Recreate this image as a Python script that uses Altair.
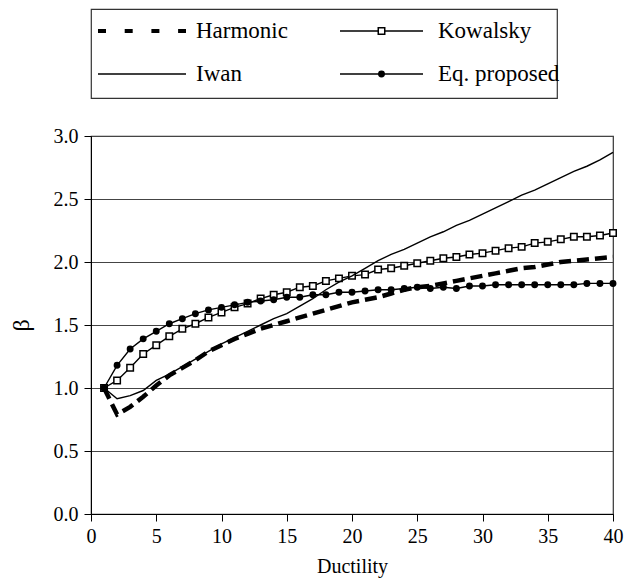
import altair as alt
import pandas as pd

ductility = list(range(1, 41))

harmonic = [1.00, 0.79, 0.85, 0.93, 1.02, 1.10, 1.16, 1.22, 1.29, 1.34,
            1.39, 1.43, 1.47, 1.50, 1.53, 1.56, 1.59, 1.62, 1.65, 1.68,
            1.70, 1.72, 1.75, 1.78, 1.80, 1.81, 1.83, 1.85, 1.87, 1.89,
            1.91, 1.93, 1.95, 1.96, 1.98, 2.00, 2.01, 2.02, 2.03, 2.04]

iwan = [1.00, 0.915, 0.94, 0.98, 1.06, 1.11, 1.17, 1.23, 1.29, 1.35,
        1.40, 1.45, 1.50, 1.55, 1.59, 1.65, 1.71, 1.78, 1.84, 1.89,
        1.95, 2.01, 2.06, 2.10, 2.15, 2.20, 2.24, 2.29, 2.33, 2.38,
        2.43, 2.48, 2.53, 2.57, 2.62, 2.67, 2.72, 2.76, 2.81, 2.87]

kowalsky = [1.00, 1.06, 1.16, 1.27, 1.34, 1.41, 1.47, 1.51, 1.56, 1.60,
            1.64, 1.67, 1.71, 1.74, 1.76, 1.80, 1.81, 1.85, 1.87, 1.89,
            1.90, 1.94, 1.95, 1.97, 1.99, 2.01, 2.03, 2.04, 2.06, 2.07,
            2.09, 2.11, 2.12, 2.15, 2.16, 2.18, 2.20, 2.20, 2.21, 2.23]

proposed = [1.00, 1.18, 1.31, 1.39, 1.45, 1.51, 1.55, 1.59, 1.62, 1.64,
            1.66, 1.68, 1.69, 1.70, 1.72, 1.72, 1.74, 1.74, 1.76, 1.76,
            1.77, 1.78, 1.78, 1.79, 1.80, 1.79, 1.80, 1.79, 1.81, 1.81,
            1.82, 1.82, 1.82, 1.82, 1.82, 1.82, 1.82, 1.83, 1.83, 1.83]

y_ticks = [0.0, 0.5, 1.0, 1.5, 2.0, 2.5, 3.0]
x_ticks = [0, 5, 10, 15, 20, 25, 30, 35, 40]

legend_names = ["Harmonic", "Kowalsky", "Iwan", "Eq. proposed"]
legend_col = [0, 1, 0, 1]
legend_row = [0, 0, 1, 1]

FONT = "Liberation Serif"

def frame(vals, name):
    return pd.DataFrame({"Ductility": ductility, "beta": vals, "series": name})

df_h = frame(harmonic, "Harmonic")
df_i = frame(iwan, "Iwan")
df_k = frame(kowalsky, "Kowalsky")
df_p = frame(proposed, "Eq. proposed")

x_enc = alt.X("Ductility:Q",
              scale=alt.Scale(domain=[0, 40], nice=False, zero=False),
              axis=alt.Axis(values=x_ticks, grid=False, title="Ductility",
                            tickSize=7, labelPadding=5, titlePadding=10,
                            labelFontSize=20, titleFontSize=20,
                            titleFontWeight="normal", labelFlush=False,
                            labelFont=FONT, titleFont=FONT,
                            domainColor="black", tickColor="black",
                            labelColor="black", titleColor="black"))
y_enc = alt.Y("beta:Q",
              scale=alt.Scale(domain=[0, 3], nice=False),
              axis=alt.Axis(values=y_ticks, format=".1f", grid=True, title="β",
                            tickSize=7, labelPadding=6, titlePadding=20,
                            labelFontSize=20, titleFontSize=24,
                            labelFont=FONT, titleFont=FONT,
                            titleFontWeight="normal", gridColor="#444",
                            gridWidth=1, gridOpacity=1,
                            domainColor="black", tickColor="black",
                            labelColor="black", titleColor="black"))

harm_layer = alt.Chart(df_h).mark_line(
    color="black", strokeWidth=4.5, strokeDash=[12, 6]
).encode(x=x_enc, y=y_enc)

iwan_layer = alt.Chart(df_i).mark_line(
    color="black", strokeWidth=1.4
).encode(x=x_enc, y=y_enc)

kow_line = alt.Chart(df_k).mark_line(color="black", strokeWidth=1.4).encode(x=x_enc, y=y_enc)
kow_pts = alt.Chart(df_k).mark_square(
    fill="white", stroke="black", strokeWidth=1.5, size=42, opacity=1
).encode(x=x_enc, y=y_enc)

prop_line = alt.Chart(df_p).mark_line(color="black", strokeWidth=1.4).encode(x=x_enc, y=y_enc)
prop_pts = alt.Chart(df_p).mark_circle(
    color="black", size=48, opacity=1
).encode(x=x_enc, y=y_enc)

main = alt.layer(harm_layer, kow_line, kow_pts, iwan_layer, prop_line, prop_pts).properties(
    width=522, height=378
)

# legend box built as a small chart
col_line_start = [7, 249]
col_line_end = [95, 332]
col_text = [105, 347]
row_y = [22, 65]

leg = pd.DataFrame({
    "name": legend_names,
    "x1": [col_line_start[c] for c in legend_col],
    "x2": [col_line_end[c] for c in legend_col],
    "xm": [(col_line_start[c] + col_line_end[c]) / 2 for c in legend_col],
    "xt": [col_text[c] for c in legend_col],
    "y": [row_y[r] for r in legend_row],
})

lx1 = alt.X("x1:Q", scale=None, axis=None)
lx2 = alt.X2("x2:Q")
lxm = alt.X("xm:Q", scale=None, axis=None)
lxt = alt.X("xt:Q", scale=None, axis=None)
ly = alt.Y("y:Q", scale=None, axis=None)

base_leg = alt.Chart(leg)
leg_harm = base_leg.transform_filter(alt.datum.name == "Harmonic").mark_rule(
    color="black", strokeWidth=4, strokeDash=[8, 18.7]).encode(x=lx1, x2=lx2, y=ly)
leg_solid = base_leg.transform_filter(alt.datum.name != "Harmonic").mark_rule(
    color="black", strokeWidth=1.4).encode(x=lx1, x2=lx2, y=ly)
leg_sq = base_leg.transform_filter(alt.datum.name == "Kowalsky").mark_square(
    fill="white", stroke="black", strokeWidth=1.5, size=42, opacity=1).encode(x=lxm, y=ly)
leg_circ = base_leg.transform_filter(alt.datum.name == "Eq. proposed").mark_circle(
    color="black", size=48, opacity=1).encode(x=lxm, y=ly)
leg_text = base_leg.mark_text(
    align="left", baseline="middle", fontSize=23, font=FONT, color="black"
).encode(x=lxt, y=ly, text="name:N")

legend_box = alt.layer(leg_harm, leg_solid, leg_sq, leg_circ, leg_text).properties(
    width=466, height=89
)

chart = alt.vconcat(legend_box, main, spacing=38, bounds="flush").properties(
    padding={"left": 8, "top": 8, "right": 10, "bottom": 4}
).configure_view(
    stroke="#333", strokeWidth=1.2
)

chart.save("out.html", embed_options={"renderer": "svg", "actions": False})
